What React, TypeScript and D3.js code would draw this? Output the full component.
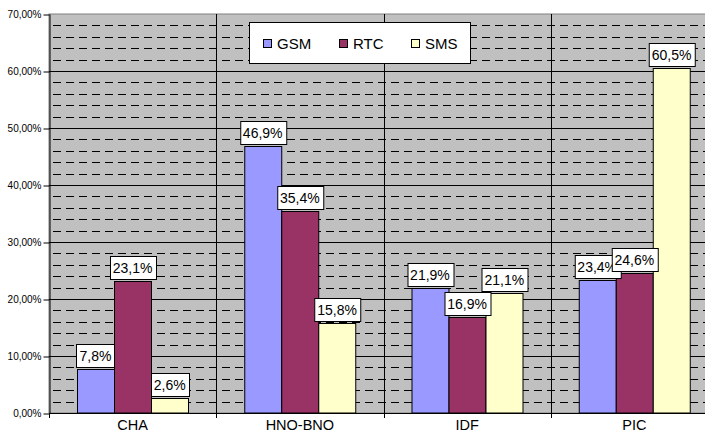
import React, { useEffect, useRef } from "react";
import * as d3 from "d3";

const categories = ["CHA", "HNO-BNO", "IDF", "PIC"];
const seriesNames = ["GSM", "RTC", "SMS"];
const gsm = [7.8, 46.9, 21.9, 23.4];
const rtc = [23.1, 35.4, 16.9, 24.6];
const sms = [2.6, 15.8, 21.1, 60.5];
const seriesColors = ["#9999FF", "#993366", "#FFFFCC"];
const yTicks = [0, 10, 20, 30, 40, 50, 60, 70];

const FONT = "'Liberation Sans', Arial, sans-serif";

const App = () => {
  const chart = useRef<SVGSVGElement>(null);

  useEffect(() => {
    const width = 705;
    const height = 433;
    const margin = { top: 14, left: 49, bottom: 20 };
    const plotRight = 718; // plot area runs past the picture edge
    const plotBottom = height - margin.bottom;

    const svg = d3.select(chart.current).attr("width", width).attr("height", height);
    svg.selectAll("*").remove();

    const x0 = d3.scaleBand().domain(categories).range([margin.left, plotRight]);
    const x1 = d3
      .scaleBand()
      .domain(seriesNames)
      .range([0, x0.bandwidth()])
      .paddingInner(0)
      .paddingOuter(0.75);
    const y = d3.scaleLinear().domain([0, 70]).range([plotBottom, margin.top]);
    const color = d3.scaleOrdinal<string>().domain(seriesNames).range(seriesColors);

    const crisp = (v: number) => Math.round(v) + 0.5;

    // plot background
    svg
      .append("rect")
      .attr("x", margin.left)
      .attr("y", margin.top)
      .attr("width", plotRight - margin.left)
      .attr("height", plotBottom - margin.top)
      .attr("fill", "#C0C0C0")
      .attr("stroke", "#808080");

    // minor dashed gridlines every 2%
    const minor = d3.range(2, 70, 2).filter((v) => v % 10 !== 0);
    svg
      .append("g")
      .selectAll("line")
      .data(minor)
      .join("line")
      .attr("x1", margin.left)
      .attr("x2", plotRight)
      .attr("y1", (d) => crisp(y(d)))
      .attr("y2", (d) => crisp(y(d)))
      .attr("stroke", "#000")
      .attr("stroke-dasharray", "8,5")
      .attr("stroke-dashoffset", -4);

    // major gridlines
    svg
      .append("g")
      .selectAll("line")
      .data(yTicks.filter((v) => v > 0 && v < 70))
      .join("line")
      .attr("x1", margin.left)
      .attr("x2", plotRight)
      .attr("y1", (d) => crisp(y(d)))
      .attr("y2", (d) => crisp(y(d)))
      .attr("stroke", "#000");

    // vertical lines between categories
    const bounds = categories.map((c) => x0(c) as number);
    svg
      .append("g")
      .selectAll("line")
      .data(bounds.slice(1))
      .join("line")
      .attr("x1", (d) => crisp(d))
      .attr("x2", (d) => crisp(d))
      .attr("y1", margin.top)
      .attr("y2", plotBottom)
      .attr("stroke", "#000");

    // bars
    const rows = categories.map((c, i) => ({
      cat: c,
      vals: [
        { s: "GSM", v: gsm[i] },
        { s: "RTC", v: rtc[i] },
        { s: "SMS", v: sms[i] },
      ],
    }));

    const groups = svg
      .append("g")
      .selectAll("g")
      .data(rows)
      .join("g")
      .attr("transform", (d) => `translate(${x0(d.cat)},0)`);

    groups
      .selectAll("rect")
      .data((d) => d.vals)
      .join("rect")
      .attr("x", (d) => Math.round(x1(d.s) as number) + 0.5)
      .attr("y", (d) => crisp(y(d.v)))
      .attr("width", Math.round(x1.bandwidth()))
      .attr("height", (d) => plotBottom - crisp(y(d.v)))
      .attr("fill", (d) => color(d.s))
      .attr("stroke", "#000")
      .attr("stroke-width", 1);

    // data labels
    const labels = groups
      .selectAll("g.lbl")
      .data((d) => d.vals)
      .join("g")
      .attr("class", "lbl");

    labels.each(function (d) {
      const g = d3.select(this);
      const cx = (x1(d.s) as number) + x1.bandwidth() / 2;
      const txt = d.v.toFixed(1).replace(".", ",") + "%";
      const t = g
        .append("text")
        .attr("x", cx)
        .attr("text-anchor", "middle")
        .attr("font-family", FONT)
        .attr("font-size", 14)
        .text(txt);
      const w = (t.node() as SVGTextElement).getComputedTextLength() + 6;
      const bottom = Math.round(y(d.v)) - 2;
      const top = bottom - 23;
      g.insert("rect", "text")
        .attr("x", Math.round(cx - w / 2) + 0.5)
        .attr("y", top + 0.5)
        .attr("width", Math.round(w))
        .attr("height", bottom - top)
        .attr("fill", "#fff")
        .attr("stroke", "#000");
      t.attr("y", bottom - 6.5);
    });

    // y axis
    const yAxis = svg
      .append("g")
      .attr("transform", `translate(${margin.left + 0.5},0)`)
      .call(
        d3
          .axisLeft(y)
          .tickValues(yTicks)
          .tickSize(6)
          .tickSizeOuter(0)
          .tickPadding(2)
          .tickFormat((d) => (d as number).toFixed(2).replace(".", ",") + "%")
      );
    yAxis.select(".domain").attr("stroke", "#000");
    yAxis.selectAll(".tick line").attr("stroke", "#000").attr("transform", "translate(0,0.5)");
    yAxis
      .selectAll(".tick text")
      .attr("font-family", FONT)
      .attr("font-size", 10)
      .attr("fill", "#000");

    // x axis line, ticks and labels
    svg
      .append("line")
      .attr("x1", margin.left)
      .attr("x2", plotRight)
      .attr("y1", plotBottom + 0.5)
      .attr("y2", plotBottom + 0.5)
      .attr("stroke", "#000");
    svg
      .append("g")
      .selectAll("line")
      .data(bounds)
      .join("line")
      .attr("x1", (d) => crisp(d))
      .attr("x2", (d) => crisp(d))
      .attr("y1", plotBottom)
      .attr("y2", plotBottom + 5)
      .attr("stroke", "#000");
    svg
      .append("g")
      .selectAll("text")
      .data(categories)
      .join("text")
      .attr("x", (d) => (x0(d) as number) + x0.bandwidth() / 2)
      .attr("y", 430)
      .attr("text-anchor", "middle")
      .attr("font-family", FONT)
      .attr("font-size", 14.5)
      .text((d) => d);

    // legend
    const legend = svg.append("g");
    legend
      .append("rect")
      .attr("x", 249.5)
      .attr("y", 22.5)
      .attr("width", 221)
      .attr("height", 41)
      .attr("fill", "#fff")
      .attr("stroke", "#000");
    const legendX = [263, 339, 411];
    const items = legend
      .selectAll("g")
      .data(seriesNames)
      .join("g")
      .attr("transform", (d, i) => `translate(${legendX[i]},0)`);
    items
      .append("rect")
      .attr("x", 0.5)
      .attr("y", 39.5)
      .attr("width", 8)
      .attr("height", 8)
      .attr("fill", (d) => color(d))
      .attr("stroke", "#000");
    items
      .append("text")
      .attr("x", 14)
      .attr("y", 49)
      .attr("font-family", FONT)
      .attr("font-size", 15)
      .text((d) => d);
  }, []);

  return (
    <div>
      <svg ref={chart} style={{ position: "absolute", left: 0, top: 0, background: "#fff" }}></svg>
    </div>
  );
};

export default App;
